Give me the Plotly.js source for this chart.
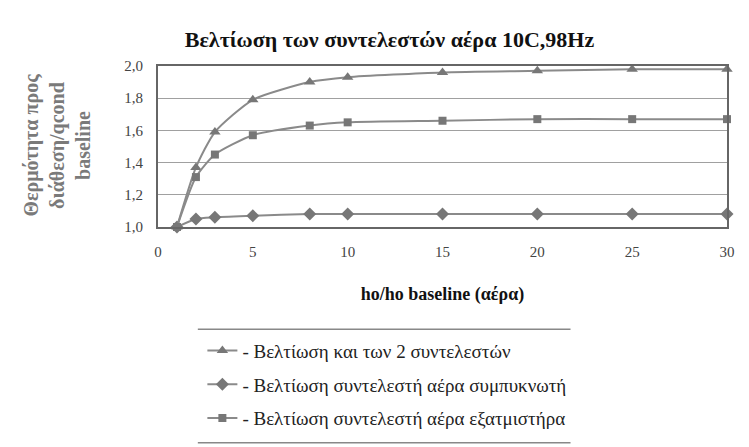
<!DOCTYPE html>
<html>
<head>
<meta charset="utf-8">
<script src="https://cdn.plot.ly/plotly-3.0.1.min.js"></script>
<style>html,body{margin:0;padding:0;background:#fff;}#chart{width:749px;height:447px;}</style>
</head>
<body>
<div id="chart"></div>
<script>
const xValues = [1, 2, 3, 5, 8, 10, 15, 20, 25, 30];
const bothCoeffs = [1.00, 1.37, 1.59, 1.79, 1.90, 1.93, 1.96, 1.97, 1.98, 1.98];
const condenserAir = [1.00, 1.05, 1.06, 1.07, 1.08, 1.08, 1.08, 1.08, 1.08, 1.08];
const evaporatorAir = [1.00, 1.31, 1.45, 1.57, 1.63, 1.65, 1.66, 1.67, 1.67, 1.67];
const seriesNames = [
  "- Βελτίωση και των 2 συντελεστών",
  "- Βελτίωση συντελεστή αέρα συμπυκνωτή",
  "- Βελτίωση συντελεστή αέρα εξατμιστήρα"
];
const xTicks = [0, 5, 10, 15, 20, 25, 30];
const yTicks = [1.0, 1.2, 1.4, 1.6, 1.8, 2.0];

const serif = "Liberation Serif";
const lineColor = "#8a8a8a";
const markerColor = "#777";

function trace(y, name, symbol, size, group) {
  return {
    x: xValues, y: y, name: name, type: "scatter", mode: "lines+markers",
    legendgroup: group,
    line: {color: lineColor, width: 2, shape: "spline", smoothing: 0.6},
    marker: {symbol: symbol, size: size, color: markerColor},
    cliponaxis: false
  };
}

const data = [
  trace(bothCoeffs, seriesNames[0], "triangle-up", 10, "a"),
  trace(condenserAir, seriesNames[1], "diamond", 10, "b"),
  trace(evaporatorAir, seriesNames[2], "square", 8, "c")
];

const layout = {
  width: 749, height: 447,
  paper_bgcolor: "#fff", plot_bgcolor: "#fff",
  margin: {l: 158, r: 22, t: 66, b: 220},
  separators: ",.",
  showlegend: true,
  title: {
    text: "<b>Βελτίωση των συντελεστών αέρα 10C,98Hz</b>",
    font: {family: serif, size: 22, color: "#111"},
    x: 0.52, xanchor: "center", y: 0.912, yanchor: "middle"
  },
  xaxis: {
    range: [0, 30], tickvals: xTicks, ticks: "", ticklabelstandoff: 10,
    showgrid: false, zeroline: false,
    showline: true, mirror: true, linecolor: "#666", linewidth: 2,
    tickfont: {family: serif, size: 15, color: "#444"},
    title: {text: "<b>ho/ho baseline (αέρα)</b>", font: {family: serif, size: 18, color: "#111"}, standoff: 28}
  },
  yaxis: {
    range: [1, 2], tickvals: yTicks, tickformat: ".1f", ticks: "", ticklabelstandoff: 10,
    showgrid: true, gridcolor: "#a0a0a0", gridwidth: 1, zeroline: false,
    showline: true, mirror: true, linecolor: "#666", linewidth: 2,
    tickfont: {family: serif, size: 15, color: "#444"}
  },
  annotations: [
    {
      text: "<b>Θερμότητα προς<br>διάθεση/qcond<br>baseline</b>",
      xref: "paper", yref: "paper", x: -0.178, y: 0.51,
      xanchor: "center", yanchor: "middle", textangle: -90, showarrow: false,
      font: {family: serif, size: 20, color: "#7a7a7a"}
    }
  ],
  legend: {
    x: 0.078, xanchor: "left", yref: "container", y: 0.258, yanchor: "top",
    font: {family: serif, size: 19, color: "#222"},
    bgcolor: "rgba(0,0,0,0)", borderwidth: 0,
    tracegroupgap: 6
  },
  shapes: [
    {type: "line", xref: "paper", yref: "paper", x0: 0.07, x1: 0.725, y0: -0.635, y1: -0.635, line: {color: "#888", width: 1.5}},
    {type: "line", xref: "paper", yref: "paper", x0: 0.07, x1: 0.725, y0: -1.34, y1: -1.34, line: {color: "#888", width: 1.5}}
  ]
};

Plotly.newPlot("chart", data, layout, {staticPlot: true, displayModeBar: false});
</script>
</body>
</html>
